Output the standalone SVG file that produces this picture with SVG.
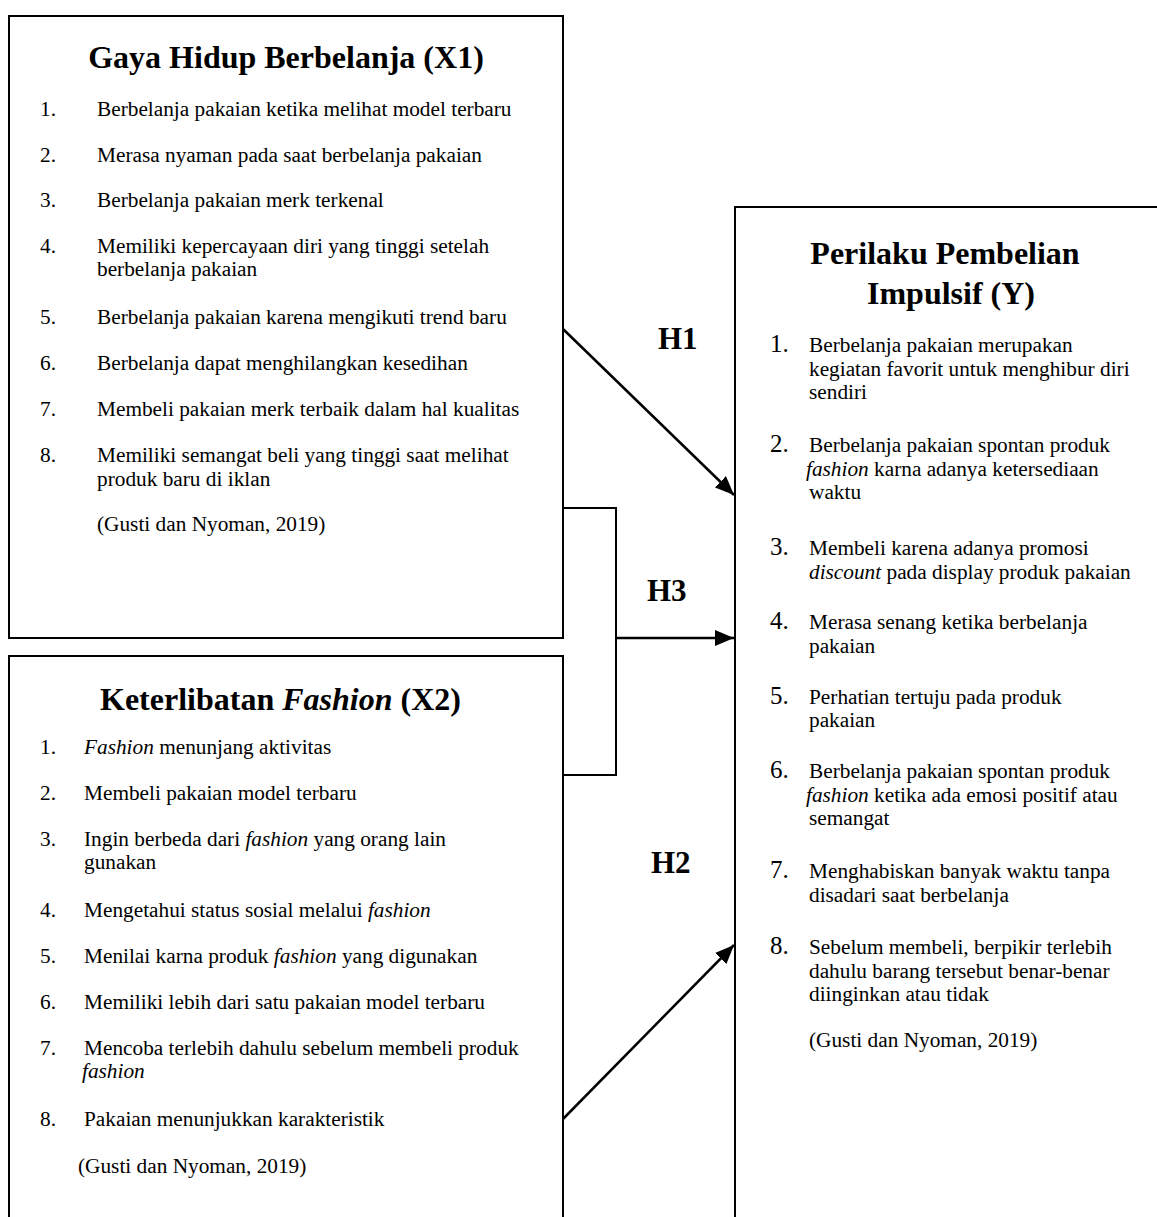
<svg xmlns="http://www.w3.org/2000/svg" width="1157" height="1217" viewBox="0 0 1157 1217">
<style>
.box{fill:#fff;stroke:#000;stroke-width:2}
.t{font-family:"Liberation Serif","Times New Roman",serif;font-size:21.3px;fill:#000}
.ttl{font-family:"Liberation Serif","Times New Roman",serif;font-size:32px;font-weight:bold;fill:#000}
.h{font-family:"Liberation Serif","Times New Roman",serif;font-size:31px;font-weight:bold;fill:#000}
.num{font-family:"Liberation Serif","Times New Roman",serif;font-size:25px;fill:#000}
.con{fill:none;stroke:#000;stroke-width:2.5}
.br{fill:none;stroke:#000;stroke-width:2}
</style>
<defs>
<marker id="ah" markerUnits="userSpaceOnUse" markerWidth="20" markerHeight="16" refX="19" refY="8" orient="auto">
<path d="M0,0 L19,8 L0,16 z" fill="#000"/>
</marker>
</defs>
<rect width="1157" height="1217" fill="#fff"/>

<g id="node-x1">
<rect class="box" x="9" y="16" width="554" height="622"/>
<text class="ttl" x="286" y="68" text-anchor="middle">Gaya Hidup Berbelanja (X1)</text>
<text class="t" x="40" y="116">1.</text><text class="t" x="97" y="116">Berbelanja pakaian ketika melihat model terbaru</text>
<text class="t" x="40" y="162">2.</text><text class="t" x="97" y="162">Merasa nyaman pada saat berbelanja pakaian</text>
<text class="t" x="40" y="207">3.</text><text class="t" x="97" y="207">Berbelanja pakaian merk terkenal</text>
<text class="t" x="40" y="253">4.</text><text class="t" x="97" y="253">Memiliki kepercayaan diri yang tinggi setelah</text>
<text class="t" x="97" y="276">berbelanja pakaian</text>
<text class="t" x="40" y="324">5.</text><text class="t" x="97" y="324">Berbelanja pakaian karena mengikuti trend baru</text>
<text class="t" x="40" y="370">6.</text><text class="t" x="97" y="370">Berbelanja dapat menghilangkan kesedihan</text>
<text class="t" x="40" y="416">7.</text><text class="t" x="97" y="416">Membeli pakaian merk terbaik dalam hal kualitas</text>
<text class="t" x="40" y="462">8.</text><text class="t" x="97" y="462">Memiliki semangat beli yang tinggi saat melihat</text>
<text class="t" x="97" y="486">produk baru di iklan</text>
<text class="t" x="97" y="531">(Gusti dan Nyoman, 2019)</text>
</g>

<g id="node-x2">
<rect class="box" x="9" y="656" width="554" height="580"/>
<text class="ttl" x="100" y="710">Keterlibatan <tspan font-style="italic">Fashion</tspan> (X2)</text>
<text class="t" x="40" y="754">1.</text><text class="t" x="84" y="754"><tspan font-style="italic">Fashion</tspan> menunjang aktivitas</text>
<text class="t" x="40" y="800">2.</text><text class="t" x="84" y="800">Membeli pakaian model terbaru</text>
<text class="t" x="40" y="846">3.</text><text class="t" x="84" y="846">Ingin berbeda dari <tspan font-style="italic">fashion</tspan> yang orang lain</text>
<text class="t" x="84" y="869">gunakan</text>
<text class="t" x="40" y="917">4.</text><text class="t" x="84" y="917">Mengetahui status sosial melalui <tspan font-style="italic">fashion</tspan></text>
<text class="t" x="40" y="963">5.</text><text class="t" x="84" y="963">Menilai karna produk <tspan font-style="italic">fashion</tspan> yang digunakan</text>
<text class="t" x="40" y="1009">6.</text><text class="t" x="84" y="1009">Memiliki lebih dari satu pakaian model terbaru</text>
<text class="t" x="40" y="1055">7.</text><text class="t" x="84" y="1055">Mencoba terlebih dahulu sebelum membeli produk</text>
<text class="t" x="82" y="1078" font-style="italic">fashion</text>
<text class="t" x="40" y="1126">8.</text><text class="t" x="84" y="1126">Pakaian menunjukkan karakteristik</text>
<text class="t" x="78" y="1173">(Gusti dan Nyoman, 2019)</text>
</g>

<g id="node-y">
<rect class="box" x="735" y="207" width="440" height="1030"/>
<text class="ttl" x="945" y="264" text-anchor="middle">Perilaku Pembelian</text>
<text class="ttl" x="951" y="304" text-anchor="middle">Impulsif (Y)</text>
<text class="num" x="770" y="352">1.</text>
<text class="t" x="809" y="352">Berbelanja pakaian merupakan</text>
<text class="t" x="809" y="376">kegiatan favorit untuk menghibur diri</text>
<text class="t" x="809" y="399">sendiri</text>
<text class="num" x="770" y="452">2.</text>
<text class="t" x="809" y="452">Berbelanja pakaian spontan produk</text>
<text class="t" x="806" y="476"><tspan font-style="italic">fashion</tspan> karna adanya ketersediaan</text>
<text class="t" x="809" y="499">waktu</text>
<text class="num" x="770" y="555">3.</text>
<text class="t" x="809" y="555">Membeli karena adanya promosi</text>
<text class="t" x="809" y="579"><tspan font-style="italic">discount</tspan> pada display produk pakaian</text>
<text class="num" x="770" y="629">4.</text>
<text class="t" x="809" y="629">Merasa senang ketika berbelanja</text>
<text class="t" x="809" y="653">pakaian</text>
<text class="num" x="770" y="704">5.</text>
<text class="t" x="809" y="704">Perhatian tertuju pada produk</text>
<text class="t" x="809" y="727">pakaian</text>
<text class="num" x="770" y="778">6.</text>
<text class="t" x="809" y="778">Berbelanja pakaian spontan produk</text>
<text class="t" x="806" y="802"><tspan font-style="italic">fashion</tspan> ketika ada emosi positif atau</text>
<text class="t" x="809" y="825">semangat</text>
<text class="num" x="770" y="878">7.</text>
<text class="t" x="809" y="878">Menghabiskan banyak waktu tanpa</text>
<text class="t" x="809" y="902">disadari saat berbelanja</text>
<text class="num" x="770" y="954">8.</text>
<text class="t" x="809" y="954">Sebelum membeli, berpikir terlebih</text>
<text class="t" x="809" y="978">dahulu barang tersebut benar-benar</text>
<text class="t" x="809" y="1001">diinginkan atau tidak</text>
<text class="t" x="809" y="1047">(Gusti dan Nyoman, 2019)</text>
</g>

<g id="connectors">
<line class="con" x1="563" y1="329" x2="734" y2="495" marker-end="url(#ah)"/>
<polyline class="br" points="563,508 616,508 616,775 563,775"/>
<line class="con" x1="616" y1="638" x2="734" y2="638" marker-end="url(#ah)"/>
<line class="con" x1="563" y1="1119" x2="734" y2="945" marker-end="url(#ah)"/>
</g>

<g id="labels">
<text class="h" x="658" y="349">H1</text>
<text class="h" x="647" y="601">H3</text>
<text class="h" x="651" y="873">H2</text>
</g>
</svg>
